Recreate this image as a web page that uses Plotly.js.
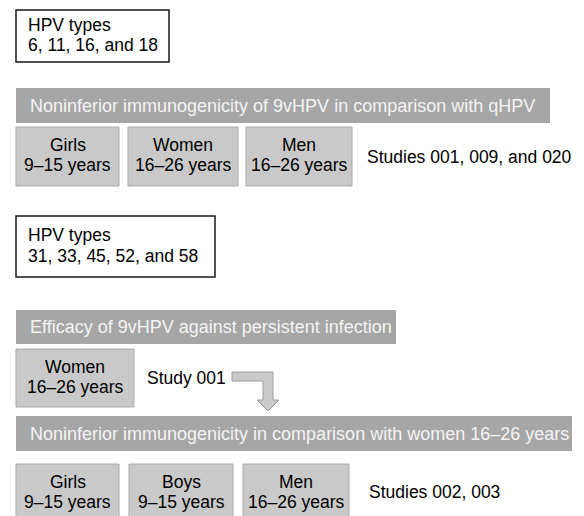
<!DOCTYPE html>
<html>
<head>
<meta charset="utf-8">
<script src="https://cdn.plot.ly/plotly-3.0.1.min.js"></script>
<style>html,body{margin:0;padding:0;background:#fff;}#chart{width:584px;height:516px;}</style>
</head>
<body>
<div id="chart"></div>
<script>
// ---- content ----
const typeBoxes = ["HPV types<br>6, 11, 16, and 18", "HPV types<br>31, 33, 45, 52, and 58"];
const banners = [
  "Noninferior immunogenicity of 9vHPV in comparison with qHPV",
  "Efficacy of 9vHPV against persistent infection",
  "Noninferior immunogenicity in comparison with women 16\u201326 years"
];
const row1Groups = ["Girls<br>9\u201315 years", "Women<br>16\u201326 years", "Men<br>16\u201326 years"];
const row2Groups = ["Women<br>16\u201326 years"];
const row3Groups = ["Girls<br>9\u201315 years", "Boys<br>9\u201315 years", "Men<br>16\u201326 years"];
const studyLabels = ["Studies 001, 009, and 020", "Study 001", "Studies 002, 003"];

// ---- layout geometry (pixels, y downward) ----
const FONT = "Liberation Sans, Arial, sans-serif";
const FS = 17.5;
const LINE = 20.5;
const shapes = [];
const annotations = [];

function rect(x0, y0, x1, y1, fill, line, lw) {
  shapes.push({type: "rect", xref: "x", yref: "y", x0, y0, x1, y1,
    fillcolor: fill, line: {color: line, width: lw}, layer: "below"});
}
function text(x, y, t, opts) {
  annotations.push(Object.assign({x, y, xref: "x", yref: "y", text: t, showarrow: false,
    xanchor: "left", yanchor: "middle", align: "left",
    font: {family: FONT, size: FS, color: "#000"}}, opts || {}));
}
// multi-line text with controlled line spacing
function lines(x, yc, t, opts) {
  const parts = t.split("<br>");
  const n = parts.length;
  parts.forEach((p, k) => text(x, yc + (k - (n - 1) / 2) * LINE, p, opts));
}

// white type boxes
const typeGeom = [[16, 10, 169, 62], [16, 216, 215, 277]];
typeBoxes.forEach((t, i) => {
  const g = typeGeom[i];
  rect(g[0], g[1], g[2], g[3], "#ffffff", "#1a1a1a", 1.5);
  lines(g[0] + 10, (g[1] + g[3]) / 2 - 1, t);
});

// banners
const bannerGeom = [[16, 88, 550, 123], [16, 310, 396, 344], [16, 416, 572, 451]];
banners.forEach((t, i) => {
  const g = bannerGeom[i];
  rect(g[0], g[1], g[2], g[3], "#a6a6a6", "#a6a6a6", 0);
  text(g[0] + 12, (g[1] + g[3]) / 2, t, {font: {family: FONT, size: 18, color: "#f4f4f4"}});
});

// gray group boxes
function groupRow(labels, xs, y0, y1, yc) {
  labels.forEach((t, i) => {
    rect(xs[i][0], y0, xs[i][1], y1, "#c9c9c9", "#a9a9a9", 1);
    lines((xs[i][0] + xs[i][1]) / 2, yc, t, {xanchor: "center", align: "center"});
  });
}
groupRow(row1Groups, [[16, 119], [128, 238], [246, 352]], 127, 186, 155);
groupRow(row2Groups, [[16, 134]], 349, 407, 377);
groupRow(row3Groups, [[16, 119], [129, 233], [243, 349]], 464, 530, 492);

// study labels
text(365, 157, studyLabels[0]);
text(145, 378, studyLabels[1]);
text(367, 492, studyLabels[2]);

// bent arrow
shapes.push({type: "path", xref: "x", yref: "y",
  path: "M232,372 L273,372 L273,400 L279,400 L268,411 L257,400 L263,400 L263,381 L232,381 Z",
  fillcolor: "#c9c9c9", line: {color: "#9c9c9c", width: 1}});

const layout = {
  width: 584, height: 516,
  margin: {l: 0, r: 0, t: 0, b: 0, pad: 0},
  paper_bgcolor: "#ffffff", plot_bgcolor: "#ffffff",
  xaxis: {range: [0, 584], visible: false, fixedrange: true},
  yaxis: {range: [516, 0], visible: false, fixedrange: true},
  showlegend: false,
  shapes, annotations
};
Plotly.newPlot("chart", [], layout, {staticPlot: true, displayModeBar: false});
</script>
</body>
</html>
